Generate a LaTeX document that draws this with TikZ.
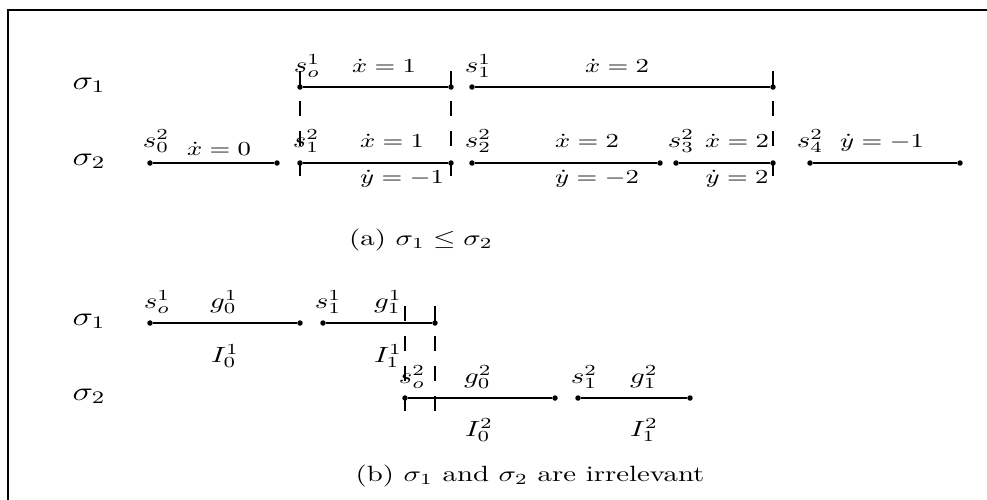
\documentclass[tikz,border=0pt]{standalone}
\usetikzlibrary{calc}

\begin{document}
\begin{tikzpicture}[
  x=0.347pt, y=-0.347pt,
  dot/.style={circle, fill=black, inner sep=0pt, minimum size=1.9pt},
  seg/.style={line width=0.6pt},
  guide/.style={line width=0.5pt, dash pattern=on 5.2pt off 5.2pt},
  lbl/.style={anchor=base, inner sep=0pt, yscale=0.765, transform shape},
  eq/.style={lbl, font=\small},
  run/.style={lbl, font=\large}
]
\useasboundingbox (0,0) rectangle (987,499);
\clip (0,0) rectangle (987,499);
\draw[line width=0.7pt] (8,520) -- (8,10) -- (1000,10);

% (a)
\node[run] (ra1) at (89,89) {$\sigma_1$};
\node[run] (ra2) at (89,165) {$\sigma_2$};

\node[dot] (p1) at (300,87) {};
\node[dot] (p2) at (451,87) {};
\node[dot] (p3) at (472,87) {};
\node[dot] (p4) at (773,87) {};
\draw[seg] (p1) -- (p2);
\draw[seg] (p3) -- (p4);

\node[dot] (q1) at (150,163) {};
\node[dot] (q2) at (277,163) {};
\node[dot] (q3) at (300,163) {};
\node[dot] (q4) at (451,163) {};
\node[dot] (q5) at (472,163) {};
\node[dot] (q6) at (660,163) {};
\node[dot] (q7) at (676,163) {};
\node[dot] (q8) at (773,163) {};
\node[dot] (q9) at (810,163) {};
\node[dot] (q10) at (960,163) {};
\draw[seg] (q1) -- (q2);
\draw[seg] (q3) -- (q4);
\draw[seg] (q5) -- (q6);
\draw[seg] (q7) -- (q8);
\draw[seg] (q9) -- (q10);

\draw[guide] ($(p1)+(0,-16)$) -- ($(q3)+(0,15)$);
\draw[guide] ($(p2)+(0,-16)$) -- ($(q4)+(0,15)$);
\draw[guide] ($(p4)+(0,-16)$) -- ($(q8)+(0,15)$);

\node[lbl] at (307,72) {$s_o^1$};
\node[eq] at (384,72) {$\dot{x}=1$};
\node[lbl] at (478,72) {$s_1^1$};
\node[eq] at (617,72) {$\dot{x}=2$};

\node[lbl] at (156,147) {$s_0^2$};
\node[eq] at (219,155) {$\dot{x}=0$};
\node[lbl] at (306,147) {$s_1^2$};
\node[eq] at (392,147) {$\dot{x}=1$};
\node[lbl] at (478,147) {$s_2^2$};
\node[eq] at (587,147) {$\dot{x}=2$};
\node[lbl] at (681,147) {$s_3^2$};
\node[eq] at (737,147) {$\dot{x}=2$};
\node[lbl] at (810,147) {$s_4^2$};
\node[eq] at (882,147) {$\dot{y}=-1$};
\node[eq] at (402,183) {$\dot{y}=-1$};
\node[eq] at (597,183) {$\dot{y}=-2$};
\node[eq] at (737,183) {$\dot{y}=2$};

\node[lbl] (capa) at (421,245) {(a) $\sigma_1 \leq \sigma_2$};

% (b)
\node[run] (rb1) at (89,325) {$\sigma_1$};
\node[run] (rb2) at (89,400) {$\sigma_2$};

\node[dot] (u1) at (150,323) {};
\node[dot] (u2) at (300,323) {};
\node[dot] (u3) at (323,323) {};
\node[dot] (u4) at (435,323) {};
\draw[seg] (u1) -- (u2);
\draw[seg] (u3) -- (u4);

\node[dot] (v1) at (405,398) {};
\node[dot] (v2) at (555,398) {};
\node[dot] (v3) at (578,398) {};
\node[dot] (v4) at (690,398) {};
\draw[seg] (v1) -- (v2);
\draw[seg] (v3) -- (v4);

\draw[guide] ($(v1)+(0,-92)$) -- ($(v1)+(0,15)$);
\draw[guide] ($(u4)+(0,-17)$) -- ($(u4)+(0,90)$);

\node[lbl] at (157,308) {$s_o^1$};
\node[lbl] at (224,308) {$g_0^1$};
\node[lbl] at (328,308) {$s_1^1$};
\node[lbl] at (388,308) {$g_1^1$};
\node[lbl] at (225,362) {$I_0^1$};
\node[lbl] at (388,362) {$I_1^1$};

\node[lbl] at (412,383) {$s_o^2$};
\node[lbl] at (478,383) {$g_0^2$};
\node[lbl] at (584,383) {$s_1^2$};
\node[lbl] at (644,383) {$g_1^2$};
\node[lbl] at (479,436) {$I_0^2$};
\node[lbl] at (644,436) {$I_1^2$};

\node[lbl] (capb) at (530,481) {(b) $\sigma_1$ and $\sigma_2$ are irrelevant};
\end{tikzpicture}
\end{document}
